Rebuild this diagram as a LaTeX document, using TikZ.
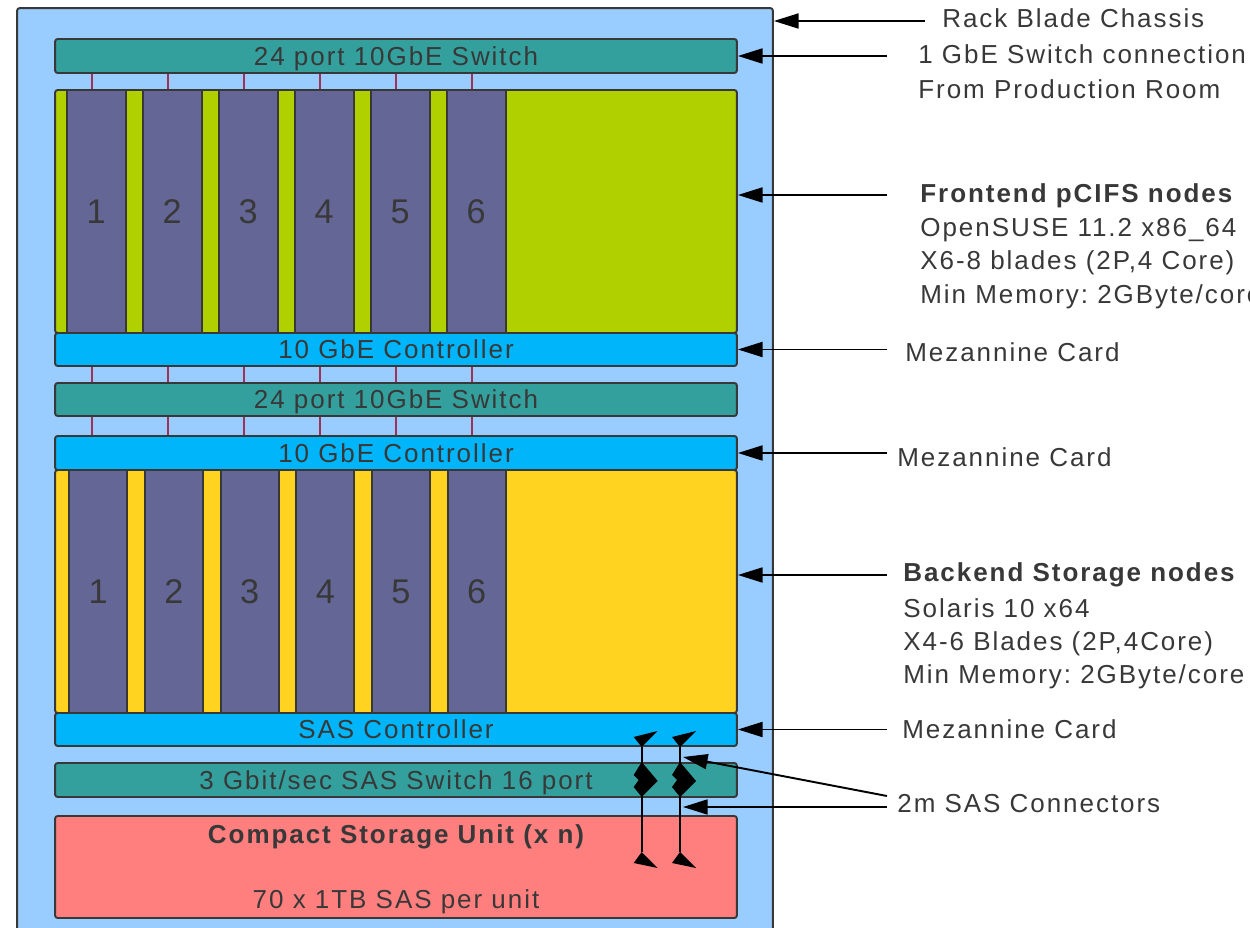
\documentclass[tikz,border=0pt]{standalone}
\usepackage{fontspec}
\setmainfont{Liberation Sans}[LetterSpace=7.5]
\usetikzlibrary{arrows.meta, positioning}
\definecolor{chassisblue}{HTML}{99CCFF}
\definecolor{switchteal}{HTML}{33A09E}
\definecolor{frontgreen}{HTML}{B0D000}
\definecolor{bladeviolet}{HTML}{646696}
\definecolor{ctrlblue}{HTML}{00B5FA}
\definecolor{backyellow}{HTML}{FFD320}
\definecolor{storagered}{HTML}{FF7F7F}
\definecolor{portred}{HTML}{A03058}
\definecolor{ink}{HTML}{383838}
\frenchspacing
\tikzset{
  every picture/.style={>=Stealth},
  hwbox/.style={draw=ink, line width=1.1pt, rounded corners=1.5pt, text=ink, inner sep=0pt,
              text depth=0pt, font=\fontsize{14.8}{18}\selectfont},
  chassisbox/.style={hwbox, fill=chassisblue, minimum width=15.12cm, minimum height=18.8cm},
  switchbar/.style={hwbox, fill=switchteal, minimum width=13.64cm, minimum height=0.68cm},
  ctrlbar/.style={hwbox, fill=ctrlblue, minimum width=13.64cm, minimum height=0.66cm},
  bay/.style={hwbox, minimum width=13.64cm, minimum height=4.86cm},
  blade/.style={hwbox, fill=bladeviolet, rounded corners=0pt, minimum width=1.18cm,
              minimum height=4.86cm, font=\fontsize{19.5}{22}\selectfont},
  storagebox/.style={hwbox, fill=storagered, minimum width=13.64cm, minimum height=2.04cm},
  portline/.style={draw=portred, line width=1.2pt},
  leader/.style={-{Triangle[length=14pt, width=8.5pt]}, line width=1.1pt, draw=black},
  note/.style={anchor=base west, inner sep=0pt, text=ink, font=\fontsize{14.8}{18}\selectfont},
  notebold/.style={note, font=\fontsize{14.8}{18}\selectfont\bfseries},
  cable/.style={draw=black, line width=1.3pt},
}

\begin{document}
\begin{tikzpicture}[x=0.02cm, y=-0.02cm]
  \useasboundingbox (0,0) rectangle (1250,928);
  \clip (0,0) rectangle (1250,928);
  % chassis and top switch
  \node[chassisbox] (chassis) at (395,478) {};
  \node[switchbar] (sw1) at (396,56) {24 port 10GbE Switch};
  % frontend blades
  \node[bay, fill=frontgreen] (front) at (396,211.5) {};
  \foreach \i in {1,...,6}
    \node[blade] (f\i) at ({96.2+76*(\i-1)},211.5) {\i};
  \node[ctrlbar] (ctl1) at (396,349.5) {10 GbE Controller};
  \node[switchbar, minimum height=0.66cm] (sw2) at (396,399.5) {24 port 10GbE Switch};
  \node[ctrlbar, minimum height=0.68cm] (ctl2) at (396,453) {10 GbE Controller};
  % backend blades
  \node[bay, fill=backyellow] (back) at (396,591.5) {};
  \foreach \i in {1,...,6}
    \node[blade, minimum width=1.16cm] (b\i) at ({98.2+75.7*(\i-1)},591.5) {\i};
  \node[ctrlbar] (sasctl) at (396,729.5) {SAS Controller};
  \node[switchbar] (sassw) at (396,780) {3 Gbit/sec SAS Switch 16 port};
  \node[storagebox] (csu) at (396,867) {};
  \node[notebold, anchor=center] (csutitle) at (396,837) {Compact Storage Unit (x n)};
  \node[note, anchor=center] (csudisks) at (396,902) {70 x 1TB SAS per unit};

  % 10GbE ports
  \foreach \i in {1,...,6} {
    \draw[portline] ([xshift=-0.08cm]f\i.north) -- ([xshift=-0.08cm]f\i.north |- sw1.south);
    \draw[portline] ([xshift=-0.08cm]f\i.north |- ctl1.south) -- ([xshift=-0.08cm]f\i.north |- sw2.north);
    \draw[portline] ([xshift=-0.08cm]f\i.north |- sw2.south) -- ([xshift=-0.08cm]f\i.north |- ctl2.north);
  }

  % SAS cables
  \foreach \n/\cx in {L/641.7, R/680} {
    \coordinate (top\n) at (\cx,747);
    \coordinate (bot\n) at (\cx,852);
    \draw[cable] (top\n) -- (bot\n);
    \begin{scope}[shift={(\cx,0)}]
      \fill (-8,737) -- (16,731) -- (0,747) -- cycle;
      \fill (0,762) -- (-8,775) -- (-3,780) -- (-8,787) -- (0,797) -- (16,781) -- cycle;
      \fill (0,852) -- (-8,863) -- (16,868) -- cycle;
    \end{scope}
  }

  % callouts
  \coordinate (lx) at (887,0);
  \coordinate (chasA) at (925,21);
  \draw[leader] (chasA) -- (chasA -| chassis.east);
  \node[note] (chasL) at (942,28) {Rack Blade Chassis};
  \draw[leader] (lx |- sw1) -- (sw1.east);
  \node[note] (gbeL) at (918,64) {1 GbE Switch connection};
  \node[note] (gbeL2) at (918,99) {From Production Room};
  \coordinate (frontA) at (887,195);
  \draw[leader] (frontA) -- (frontA -| front.east);
  \node[notebold] (frontL) at (920,203) {Frontend pCIFS nodes};
  \node[note] (frontL2) at (920,237) {OpenSUSE 11.2 x86\_64};
  \node[note] (frontL3) at (920,270) {X6-8 blades (2P,4 Core)};
  \node[note] (frontL4) at (920,304) {Min Memory: 2GByte/core};
  \draw[leader] (lx |- ctl1) -- (ctl1.east);
  \node[note] (mez1) at (905,362) {Mezannine Card};
  \draw[leader] (lx |- ctl2) -- (ctl2.east);
  \node[note] (mez2) at (897,467) {Mezannine Card};
  \coordinate (backA) at (887,575);
  \draw[leader] (backA) -- (backA -| back.east);
  \node[notebold] (backL) at (903,582) {Backend Storage nodes};
  \node[note] (backL2) at (903,617) {Solaris 10 x64};
  \node[note] (backL3) at (903,650) {X4-6 Blades (2P,4Core)};
  \node[note] (backL4) at (903,683) {Min Memory: 2GByte/core};
  \draw[leader] (lx |- sasctl) -- (sasctl.east);
  \node[note] (mez3) at (902,738) {Mezannine Card};
  \coordinate (sasA) at (887,796);
  \coordinate (sasB) at (887,807);
  \coordinate (jackA) at (683,757);
  \coordinate (jackB) at (683,807);
  \draw[leader] (sasA) -- (jackA);
  \draw[leader] (sasB) -- (jackB);
  \node[note] (sasL) at (897,812) {2m SAS Connectors};
\end{tikzpicture}
\end{document}
